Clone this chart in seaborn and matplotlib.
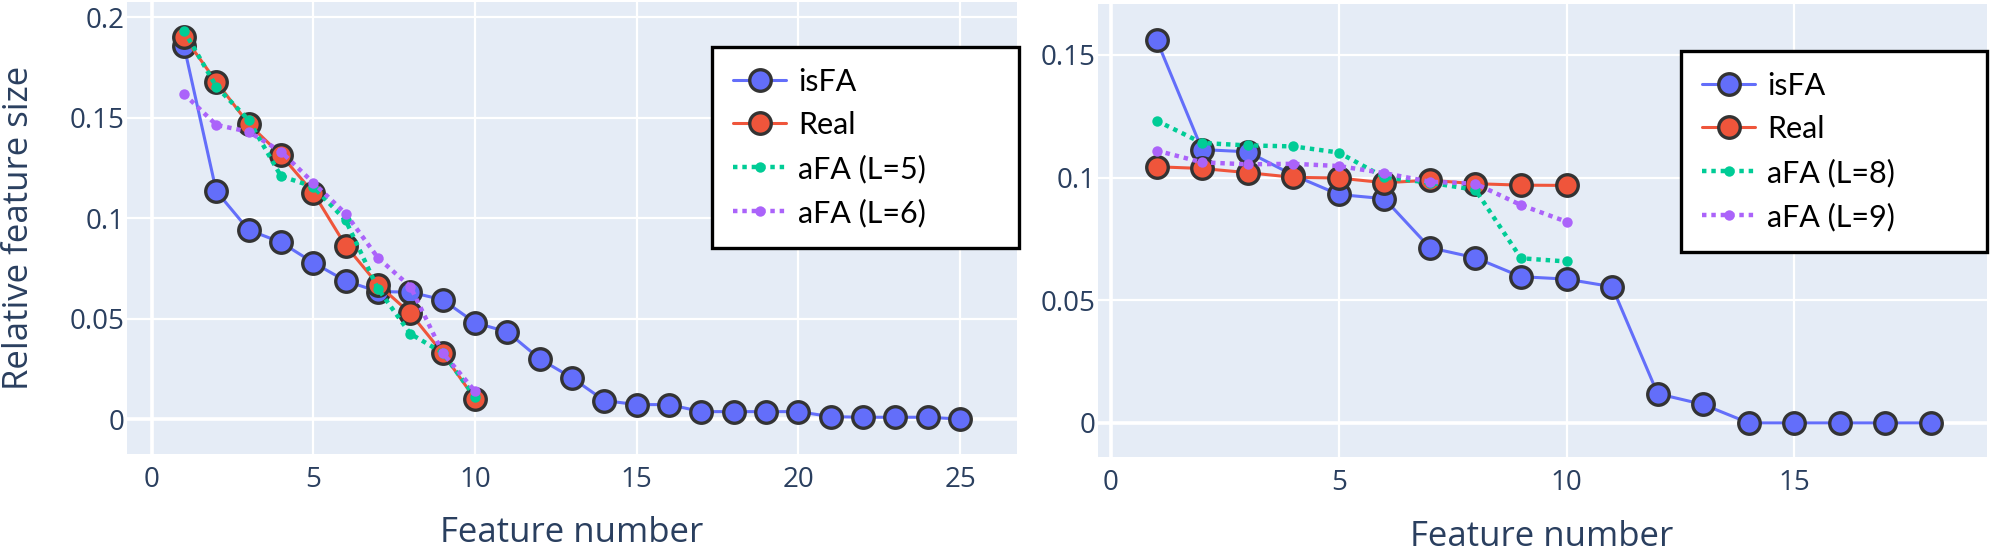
import numpy as np
import pandas as pd
import matplotlib
matplotlib.use("Agg")
import matplotlib.pyplot as plt
import seaborn as sns
from matplotlib.ticker import FuncFormatter

# left panel: L = 5 / 6
left_isfa_x = list(range(1, 26))
left_isfa = [0.186, 0.1135, 0.0942, 0.088, 0.0779, 0.0688, 0.0635, 0.0632, 0.0594, 0.048,
             0.0434, 0.030, 0.0205, 0.0092, 0.0072, 0.0072, 0.0037, 0.0037, 0.0037, 0.0037,
             0.0012, 0.0009, 0.0009, 0.0009, 0.0]
left_x = list(range(1, 11))
left_real = [0.1905, 0.168, 0.147, 0.1315, 0.1127, 0.0864, 0.067, 0.0527, 0.0328, 0.0101]
left_afa_a = [0.1935, 0.1656, 0.149, 0.121, 0.1157, 0.099, 0.0649, 0.0425, 0.033, 0.011]
left_afa_b = [0.162, 0.1465, 0.1431, 0.1332, 0.1177, 0.1023, 0.0803, 0.066, 0.033, 0.0139]
left_labels = ["isFA", "Real", "aFA (L=5)", "aFA (L=6)"]

# right panel: L = 8 / 9
right_isfa_x = list(range(1, 19))
right_isfa = [0.1562, 0.1114, 0.1105, 0.101, 0.0931, 0.0914, 0.0714, 0.0673, 0.0596, 0.0586,
              0.0555, 0.0119, 0.0075, 0.0, 0.0, 0.0, 0.0, 0.0]
right_x = list(range(1, 11))
right_real = [0.1044, 0.1037, 0.102, 0.1001, 0.0998, 0.0979, 0.0989, 0.0975, 0.0969, 0.0968]
right_afa_a = [0.1232, 0.1141, 0.1131, 0.1127, 0.1102, 0.1001, 0.0979, 0.095, 0.0671, 0.0658]
right_afa_b = [0.111, 0.1062, 0.1054, 0.1056, 0.1047, 0.1018, 0.0983, 0.0975, 0.0888, 0.082]
right_labels = ["isFA", "Real", "aFA (L=8)", "aFA (L=9)"]

BLUE = "#636efa"
RED = "#ef553b"
GREEN = "#00cc96"
PURPLE = "#ab63fa"
TEXT = "#2a3f5f"
EDGE = "#333333"

sns.set_theme(style="darkgrid", rc={
    "axes.facecolor": "#e5ecf6",
    "grid.color": "white",
    "grid.linewidth": 1.6,
    "axes.edgecolor": "#e5ecf6",
})
plt.rcParams["font.family"] = ["Open Sans", "DejaVu Sans"]

fig = plt.figure(figsize=(20, 5.55), dpi=100)
ax_l = fig.add_axes([0.0635, 0.182, 0.445, 0.8144])
ax_r = fig.add_axes([0.549, 0.1766, 0.4445, 0.816])


def draw_panel(ax, isfa_x, isfa, x, real, afa_a, afa_b, labels):
    big = dict(marker="o", markersize=15.5, markeredgecolor=EDGE, markeredgewidth=2.4,
               linewidth=2.2)
    small = dict(marker="o", markersize=7.5, markeredgewidth=0, linewidth=3.2,
                 linestyle=(0, (1, 1.1)))
    sns.lineplot(x=isfa_x, y=isfa, ax=ax, color=BLUE, label=labels[0], zorder=3, **big)
    sns.lineplot(x=x, y=real, ax=ax, color=RED, label=labels[1], zorder=4, **big)
    sns.lineplot(x=x, y=afa_a, ax=ax, color=GREEN, label=labels[2], zorder=5, **small)
    sns.lineplot(x=x, y=afa_b, ax=ax, color=PURPLE, label=labels[3], zorder=6, **small)
    ax.axhline(0, color="white", linewidth=2.6, zorder=1)
    ax.axvline(0, color="white", linewidth=2.6, zorder=1)
    ax.set_axisbelow(True)
    ax.yaxis.set_major_formatter(FuncFormatter(lambda v, p: f"{v:g}"))
    ax.tick_params(axis="both", length=0, labelsize=20, labelcolor=TEXT)
    ax.tick_params(axis="y", pad=2)
    ax.tick_params(axis="x", pad=9)
    for s in ax.spines.values():
        s.set_visible(False)
    ax.set_xlabel("")
    ax.set_ylabel("")
    handles, labs = ax.get_legend_handles_labels()
    ax.get_legend().remove()
    return handles, labs


h_l, lab_l = draw_panel(ax_l, left_isfa_x, left_isfa, left_x, left_real,
                        left_afa_a, left_afa_b, left_labels)
h_r, lab_r = draw_panel(ax_r, right_isfa_x, right_isfa, right_x, right_real,
                        right_afa_a, right_afa_b, right_labels)

ax_l.set_xticks([0, 5, 10, 15, 20, 25])
ax_l.set_yticks([0, 0.05, 0.1, 0.15, 0.2])
ax_l.set_xlim(-0.76, 26.76)
ax_l.set_ylim(-0.0174, 0.2077)

ax_r.set_xticks([0, 5, 10, 15])
ax_r.set_yticks([0, 0.05, 0.1, 0.15])
ax_r.set_xlim(-0.285, 19.23)
ax_r.set_ylim(-0.0139, 0.1707)

# axis titles
fig.text(572 / 2000, 1 - 533 / 555, "Feature number", ha="center", va="center",
         fontsize=25, color=TEXT)
fig.text(1542 / 2000, 1 - 537 / 555, "Feature number", ha="center", va="center",
         fontsize=25, color=TEXT)
fig.text(19 / 2000, 1 - 228 / 555, "Relative feature size", ha="center", va="center",
         rotation=90, fontsize=25, color=TEXT)

# boxed legends
for handles, labs, box in [(h_l, lab_l, (712, 47, 1019, 247)),
                           (h_r, lab_r, (1681, 51, 1987, 249))]:
    x0, y0, x1, y1 = box
    leg = fig.legend(handles, labs, loc="upper left",
                     bbox_to_anchor=(x0 / 2000, 1 - y1 / 555, (x1 - x0) / 2000, (y1 - y0) / 555),
                     bbox_transform=fig.transFigure, mode="expand", numpoints=1,
                     fancybox=False, framealpha=1, edgecolor="black", facecolor="white",
                     borderpad=0.68, labelspacing=0.5, handlelength=1.75, handletextpad=0.4,
                     borderaxespad=0, prop={"family": ["Lato", "DejaVu Sans"], "size": 22})
    leg.get_frame().set_linewidth(2.4)
    for t in leg.get_texts():
        t.set_color("black")

fig.savefig("out.png", dpi=100)
